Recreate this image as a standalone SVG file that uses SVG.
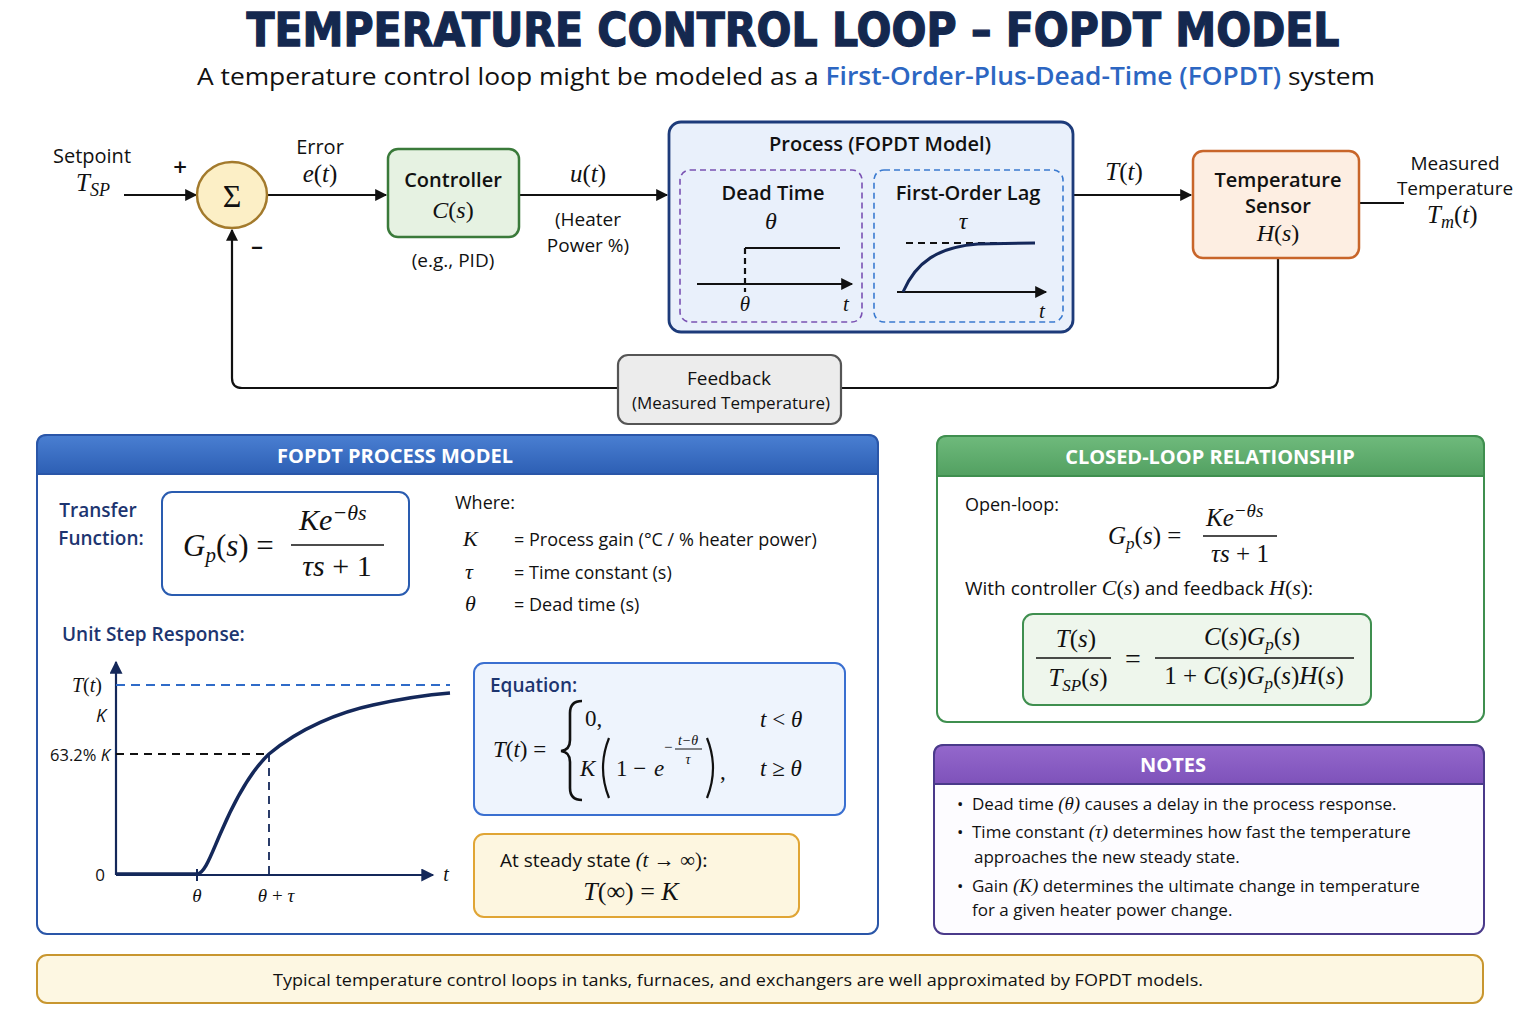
<svg xmlns="http://www.w3.org/2000/svg" width="1536" height="1024" viewBox="0 0 1536 1024">
<defs>
<marker id="ah" viewBox="0 0 10 10" refX="9" refY="5" markerWidth="13" markerHeight="12" markerUnits="userSpaceOnUse" orient="auto"><path d="M0,0 L10,5 L0,10 Z" fill="#111"/></marker>
<marker id="ahn" viewBox="0 0 10 10" refX="9" refY="5" markerWidth="14" markerHeight="13" markerUnits="userSpaceOnUse" orient="auto"><path d="M0,0 L10,5 L0,10 Z" fill="#14285a"/></marker>
<linearGradient id="gBlue" x1="0" y1="0" x2="0" y2="1"><stop offset="0" stop-color="#4a7fd2"/><stop offset="1" stop-color="#2d5fb4"/></linearGradient>
<linearGradient id="gGreen" x1="0" y1="0" x2="0" y2="1"><stop offset="0" stop-color="#6fba7c"/><stop offset="1" stop-color="#52a061"/></linearGradient>
<linearGradient id="gPurple" x1="0" y1="0" x2="0" y2="1"><stop offset="0" stop-color="#9468cc"/><stop offset="1" stop-color="#7e52ba"/></linearGradient>
<style>
.s{font-family:"Open Sans","Noto Sans","Liberation Sans",sans-serif;fill:#111}
.b{font-weight:600}
.m{font-family:"Liberation Serif","DejaVu Serif",serif;font-style:italic;fill:#111}
.mu{font-family:"Liberation Serif","DejaVu Serif",serif;font-style:normal}
.c{text-anchor:middle}
.ln{stroke:#111;stroke-width:2.2;fill:none}
.navy{fill:#1d3570}
.hdr{font-family:"Open Sans","Noto Sans","Liberation Sans",sans-serif;font-weight:700;fill:#fff;font-size:20px;text-anchor:middle}
</style>
</defs>

<rect width="1536" height="1024" fill="#fff"/>

<g id="title">
<text x="793" y="46" text-anchor="middle" font-family="'DejaVu Sans','Liberation Sans',sans-serif" font-weight="900" font-size="46" fill="#14284f" stroke="#14284f" stroke-width="1.3" textLength="1093" lengthAdjust="spacingAndGlyphs">TEMPERATURE CONTROL LOOP – FOPDT MODEL</text>
<text x="786" y="85" text-anchor="middle" class="s" font-size="24.5" textLength="1178" lengthAdjust="spacingAndGlyphs">A temperature control loop might be modeled as a <tspan fill="#2c66c2" font-weight="600">First-Order-Plus-Dead-Time (FOPDT)</tspan> system</text>
</g>

<g id="connectors">
<line x1="124" y1="195" x2="196" y2="195" class="ln" marker-end="url(#ah)"/>
<line x1="267" y1="195" x2="386" y2="195" class="ln" marker-end="url(#ah)"/>
<line x1="519" y1="195" x2="667" y2="195" class="ln" marker-end="url(#ah)"/>
<line x1="1073" y1="195" x2="1191" y2="195" class="ln" marker-end="url(#ah)"/>
<line x1="1359" y1="203" x2="1404" y2="203" class="ln"/>
<path d="M1278,258 V378 Q1278,388 1268,388 H242 Q232,388 232,378 V230" class="ln" marker-end="url(#ah)"/>
</g>

<g id="labels-top">
<text x="92" y="163" class="s c" font-size="20">Setpoint</text>
<text x="76" y="191" class="m" font-size="25">T<tspan font-size="18" dy="5">SP</tspan></text>
<text x="180" y="176" class="s c b" font-size="24">+</text>
<text x="257" y="254" class="s c b" font-size="24">–</text>
<text x="320" y="154" class="s c" font-size="20">Error</text>
<text x="320" y="182" class="m c" font-size="25">e<tspan class="mu">(</tspan>t<tspan class="mu">)</tspan></text>
<text x="588" y="182" class="m c" font-size="25">u<tspan class="mu">(</tspan>t<tspan class="mu">)</tspan></text>
<text x="588" y="226" class="s c" font-size="19">(Heater</text>
<text x="588" y="252" class="s c" font-size="19">Power %)</text>
<text x="1124" y="180" class="m c" font-size="25">T<tspan class="mu">(</tspan>t<tspan class="mu">)</tspan></text>
<text x="1455" y="170" class="s c" font-size="19">Measured</text>
<text x="1455" y="195" class="s c" font-size="19">Temperature</text>
<text x="1427" y="223" class="m" font-size="25">T<tspan font-size="18" dy="5">m</tspan><tspan dy="-5" class="mu">(</tspan>t<tspan class="mu">)</tspan></text>
</g>

<g id="sum">
<ellipse cx="232" cy="195" rx="35" ry="33" fill="#fcefc6" stroke="#a37a2c" stroke-width="2.5"/>
<text x="232" y="207" class="mu c" font-family="'DejaVu Serif','Liberation Serif',serif" font-size="32" fill="#111">Σ</text>
</g>

<g id="controller">
<rect x="388" y="149" width="131" height="88" rx="10" fill="#e6f2e2" stroke="#3a7a3a" stroke-width="2.5"/>
<text x="453" y="187" class="s b c" font-size="20">Controller</text>
<text x="453" y="218" class="m c" font-size="24">C<tspan class="mu">(</tspan>s<tspan class="mu">)</tspan></text>
<text x="453" y="267" class="s c" font-size="19">(e.g., PID)</text>
</g>

<g id="process">
<rect x="669" y="122" width="404" height="210" rx="12" fill="#e9f0fb" stroke="#1d3b7a" stroke-width="2.8"/>
<text x="880" y="151" class="s b c" font-size="20">Process (FOPDT Model)</text>
<g id="deadtime">
<rect x="680" y="170" width="182" height="152" rx="10" fill="none" stroke="#7a52b3" stroke-width="1.6" stroke-dasharray="6,4"/>
<text x="773" y="200" class="s b c" font-size="20" fill="#43308a">Dead Time</text>
<text x="771" y="229" class="m c" font-size="24">θ</text>
<line x1="697" y1="284" x2="852" y2="284" class="ln" marker-end="url(#ah)"/>
<line x1="745" y1="248" x2="840" y2="248" class="ln"/>
<line x1="745" y1="248" x2="745" y2="292" class="ln" stroke-dasharray="6,4"/>
<text x="745" y="311" class="m c" font-size="21">θ</text>
<text x="846" y="311" class="m c" font-size="21">t</text>
</g>
<g id="lag">
<rect x="874" y="170" width="189" height="152" rx="10" fill="none" stroke="#3a7ad0" stroke-width="1.6" stroke-dasharray="6,4"/>
<text x="968" y="200" class="s b c" font-size="20" fill="#1d3570">First-Order Lag</text>
<text x="963" y="229" class="m c" font-size="24">τ</text>
<line x1="906" y1="243" x2="1035" y2="243" class="ln" stroke-dasharray="7,5"/>
<line x1="897" y1="292" x2="1046" y2="292" class="ln" marker-end="url(#ah)"/>
<path d="M903,292 C916,262 938,247 978,244 L1035,243" fill="none" stroke="#14285a" stroke-width="3"/>
<text x="1042" y="318" class="m c" font-size="21">t</text>
</g>
</g>

<g id="sensor">
<rect x="1193" y="151" width="166" height="107" rx="10" fill="#fdeee2" stroke="#c8652a" stroke-width="2.5"/>
<text x="1278" y="187" class="s b c" font-size="20">Temperature</text>
<text x="1278" y="213" class="s b c" font-size="20">Sensor</text>
<text x="1278" y="241" class="m c" font-size="24">H<tspan class="mu">(</tspan>s<tspan class="mu">)</tspan></text>
</g>

<g id="feedback">
<rect x="618" y="355" width="223" height="69" rx="10" fill="#ececec" stroke="#555" stroke-width="2.2"/>
<text x="729" y="385" class="s c" font-size="19">Feedback</text>
<text x="731" y="409" class="s c" font-size="17">(Measured Temperature)</text>
</g>

<g id="panel-model">
<rect x="37" y="435" width="841" height="499" rx="10" fill="#fff" stroke="#2a56a8" stroke-width="2"/>
<path d="M37,474 V445 Q37,435 47,435 H868 Q878,435 878,445 V474 Z" fill="url(#gBlue)" stroke="#2a56a8" stroke-width="2"/>
<text x="395" y="463" class="hdr">FOPDT PROCESS MODEL</text>

<text x="98" y="517" class="s b c navy" font-size="19">Transfer</text>
<text x="101" y="545" class="s b c navy" font-size="19">Function:</text>

<g id="tf-box">
<rect x="162" y="492" width="247" height="103" rx="10" fill="#fff" stroke="#2a5cb0" stroke-width="2"/>
<text x="183" y="556" class="m" font-size="31">G<tspan font-size="21" dy="6">p</tspan><tspan class="mu" dy="-6">(</tspan>s<tspan class="mu">) =</tspan></text>
<line x1="291" y1="545" x2="384" y2="545" stroke="#111" stroke-width="1.6"/>
<text x="299" y="530" class="m" font-size="30">Ke<tspan font-size="22" dy="-10">−θs</tspan></text>
<text x="337" y="576" class="m c" font-size="30">τs<tspan class="mu"> + 1</tspan></text>
</g>

<g id="where">
<text x="455" y="509" class="s" font-size="18">Where:</text>
<text x="463" y="546" class="m" font-size="22">K</text>
<text x="514" y="546" class="s" font-size="18">=  Process gain (°C / % heater power)</text>
<text x="465" y="579" class="m" font-size="22">τ</text>
<text x="514" y="579" class="s" font-size="18">=  Time constant (s)</text>
<text x="465" y="611" class="m" font-size="22">θ</text>
<text x="514" y="611" class="s" font-size="18">=  Dead time (s)</text>
</g>

<text x="62" y="641" class="s b navy" font-size="19">Unit Step Response:</text>

<g id="plot">
<line x1="116" y1="875" x2="116" y2="662" stroke="#14285a" stroke-width="2.2" marker-end="url(#ahn)"/>
<line x1="116" y1="875" x2="433" y2="875" stroke="#14285a" stroke-width="2.2" marker-end="url(#ahn)"/>
<line x1="116" y1="685" x2="450" y2="685" stroke="#2f6bc8" stroke-width="2" stroke-dasharray="9,6"/>
<line x1="116" y1="754" x2="269" y2="754" stroke="#111" stroke-width="1.8" stroke-dasharray="8,6"/>
<line x1="269" y1="754" x2="269" y2="875" stroke="#14285a" stroke-width="1.8" stroke-dasharray="8,6"/>
<line x1="197" y1="869" x2="197" y2="881" stroke="#14285a" stroke-width="2"/>
<path d="M116,874 L197,874 C205,874 212,852 222,830 C235,800 250,772 269,754 C300,728 340,712 373,705 C400,699 425,695 450,693" fill="none" stroke="#14285a" stroke-width="3.5"/>
<text x="446" y="881" class="m c" font-size="20">t</text>
<text x="100" y="881" class="s c" font-size="17">0</text>
<text x="87" y="692" class="m c" font-size="20">T<tspan class="mu">(</tspan>t<tspan class="mu">)</tspan></text>
<text x="101" y="722" class="c" font-family="'Open Sans',sans-serif" font-style="italic" font-size="18" fill="#111">K</text>
<text x="80" y="761" class="s c" font-size="16.5">63.2% <tspan font-style="italic">K</tspan></text>
<text x="197" y="902" class="m c" font-size="19">θ</text>
<text x="276" y="902" class="m c" font-size="19">θ<tspan class="mu"> + </tspan>τ</text>
</g>

<g id="equation">
<rect x="474" y="663" width="371" height="152" rx="10" fill="#eef4fd" stroke="#3a6fd0" stroke-width="2"/>
<text x="490" y="692" class="s b navy" font-size="19">Equation:</text>
<text x="493" y="757" class="m" font-size="23">T<tspan class="mu">(</tspan>t<tspan class="mu">) =</tspan></text>
<path d="M582,701 Q570,701 570,713 V740 Q570,750 561,751 Q570,752 570,762 V788 Q570,800 582,800" fill="none" stroke="#111" stroke-width="2.6"/>
<text x="585" y="726" class="mu" font-family="'Liberation Serif',serif" font-size="23" fill="#111">0,</text>
<text x="760" y="727" class="m" font-size="23">t<tspan class="mu"> &lt; </tspan>θ</text>
<text x="580" y="776" class="m" font-size="23">K</text>
<path d="M609,738 Q597,768 609,798" fill="none" stroke="#111" stroke-width="2.2"/>
<text x="616" y="776" class="mu" font-family="'Liberation Serif',serif" font-size="23" fill="#111">1 −</text>
<text x="654" y="776" class="m" font-size="23">e</text>
<text x="664" y="752" class="mu" font-family="'Liberation Serif',serif" font-size="15" fill="#111">−</text>
<text x="688" y="745" class="m c" font-size="14">t−θ</text>
<line x1="675" y1="749" x2="702" y2="749" stroke="#111" stroke-width="1"/>
<text x="688" y="764" class="m c" font-size="14">τ</text>
<path d="M707,738 Q719,768 707,798" fill="none" stroke="#111" stroke-width="2.2"/>
<text x="720" y="779" class="mu" font-family="'Liberation Serif',serif" font-size="23" fill="#111">,</text>
<text x="760" y="776" class="m" font-size="23">t<tspan class="mu"> ≥ </tspan>θ</text>
</g>

<g id="steady">
<rect x="474" y="834" width="325" height="83" rx="10" fill="#fdf6e0" stroke="#e0a535" stroke-width="2"/>
<text x="500" y="867" class="s" font-size="19">At steady state <tspan class="m" font-size="21">(t</tspan><tspan class="mu" font-family="'Liberation Serif',serif" font-size="21"> → ∞):</tspan></text>
<text x="631" y="900" class="m c" font-size="26">T<tspan class="mu">(∞) = </tspan>K</text>
</g>
</g>

<g id="panel-closed">
<rect x="937" y="436" width="547" height="286" rx="10" fill="#fff" stroke="#3f8f4f" stroke-width="2"/>
<path d="M937,476 V446 Q937,436 947,436 H1474 Q1484,436 1484,446 V476 Z" fill="url(#gGreen)" stroke="#3f8f4f" stroke-width="2"/>
<text x="1210" y="464" class="hdr">CLOSED-LOOP RELATIONSHIP</text>
<text x="965" y="511" class="s" font-size="18">Open-loop:</text>
<text x="1108" y="544" class="m" font-size="25">G<tspan font-size="17" dy="5">p</tspan><tspan class="mu" dy="-5">(</tspan>s<tspan class="mu">) =</tspan></text>
<line x1="1203" y1="536" x2="1277" y2="536" stroke="#111" stroke-width="1.5"/>
<text x="1206" y="526" class="m" font-size="25">Ke<tspan font-size="19" dy="-9">−θs</tspan></text>
<text x="1240" y="562" class="m c" font-size="25">τs<tspan class="mu"> + 1</tspan></text>
<text x="965" y="595" class="s" font-size="19">With controller <tspan class="m" font-size="22">C<tspan class="mu">(</tspan>s<tspan class="mu">)</tspan></tspan> and feedback <tspan class="m" font-size="22">H<tspan class="mu">(</tspan>s<tspan class="mu">)</tspan></tspan>:</text>
<g id="cl-box">
<rect x="1023" y="614" width="348" height="91" rx="10" fill="#eef6ec" stroke="#3f8f4f" stroke-width="2"/>
<text x="1076" y="647" class="m c" font-size="25">T<tspan class="mu">(</tspan>s<tspan class="mu">)</tspan></text>
<line x1="1036" y1="658" x2="1111" y2="658" stroke="#111" stroke-width="1.5"/>
<text x="1078" y="686" class="m c" font-size="25">T<tspan font-size="17" dy="5">SP</tspan><tspan class="mu" dy="-5">(</tspan>s<tspan class="mu">)</tspan></text>
<text x="1133" y="668" class="mu c" font-family="'Liberation Serif',serif" font-size="28" fill="#111">=</text>
<line x1="1155" y1="658" x2="1354" y2="658" stroke="#111" stroke-width="1.5"/>
<text x="1252" y="645" class="m c" font-size="25">C<tspan class="mu">(</tspan>s<tspan class="mu">)</tspan>G<tspan font-size="17" dy="5">p</tspan><tspan class="mu" dy="-5">(</tspan>s<tspan class="mu">)</tspan></text>
<text x="1254" y="684" class="m c" font-size="25"><tspan class="mu">1 + </tspan>C<tspan class="mu">(</tspan>s<tspan class="mu">)</tspan>G<tspan font-size="17" dy="5">p</tspan><tspan class="mu" dy="-5">(</tspan>s<tspan class="mu">)</tspan>H<tspan class="mu">(</tspan>s<tspan class="mu">)</tspan></text>
</g>
</g>

<g id="panel-notes">
<rect x="934" y="745" width="550" height="189" rx="10" fill="#fdfcff" stroke="#4a3a8a" stroke-width="2"/>
<path d="M934,784 V755 Q934,745 944,745 H1474 Q1484,745 1484,755 V784 Z" fill="url(#gPurple)" stroke="#4a3a8a" stroke-width="2"/>
<text x="1173" y="772" class="hdr">NOTES</text>
<g class="s" font-size="17">
<text x="957" y="810">•</text>
<text x="972" y="810">Dead time <tspan class="m" font-size="19">(θ)</tspan> causes a delay in the process response.</text>
<text x="957" y="838">•</text>
<text x="972" y="838">Time constant <tspan class="m" font-size="19">(τ)</tspan> determines how fast the temperature</text>
<text x="974" y="863">approaches the new steady state.</text>
<text x="957" y="892">•</text>
<text x="972" y="892">Gain <tspan class="m" font-size="19">(K)</tspan> determines the ultimate change in temperature</text>
<text x="972" y="916">for a given heater power change.</text>
</g>
</g>

<g id="banner">
<rect x="37" y="955" width="1446" height="48" rx="10" fill="#fdf7e2" stroke="#c8962f" stroke-width="2"/>
<text x="738" y="986" class="s c" font-size="17" textLength="930" lengthAdjust="spacingAndGlyphs">Typical temperature control loops in tanks, furnaces, and exchangers are well approximated by FOPDT models.</text>
</g>
</svg>
